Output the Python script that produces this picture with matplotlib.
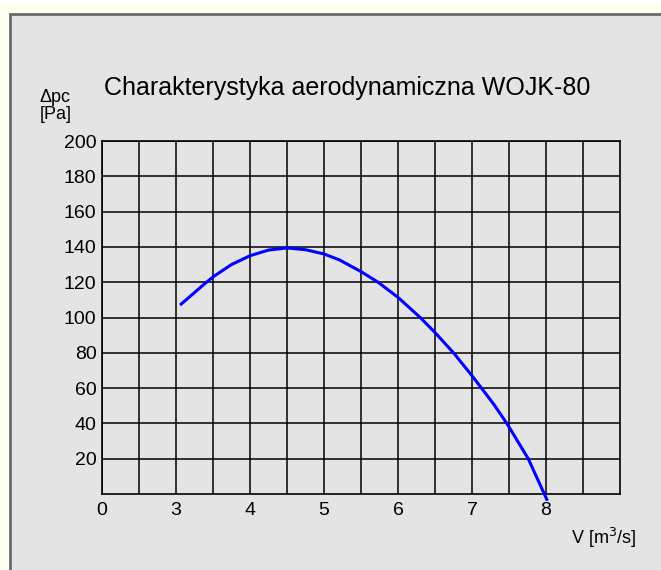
import matplotlib.pyplot as plt
from matplotlib.patches import Rectangle

plt.rcParams['font.family'] = ['Liberation Sans', 'DejaVu Sans']

# flow V [m3/s] and pressure drop dpc [Pa]
flow = [3.07, 3.37, 3.5, 3.75, 4.0, 4.25, 4.5, 4.75, 5.0, 5.21, 5.5, 5.73,
        6.0, 6.3, 6.5, 6.75, 7.0, 7.11, 7.3, 7.47, 7.5, 7.76, 8.01]
dpc = [107.6, 118.5, 123, 130, 135, 138.2, 139.4, 138.4, 136.0, 132.6, 126, 120,
       111.4, 100, 91.5, 80, 67, 61, 50.5, 40, 38, 20, -3]

x_ticks = [2, 3, 4, 5, 6, 7, 8]
x_labels = ["0", "3", "4", "5", "6", "7", "8"]
y_ticks = [20, 40, 60, 80, 100, 120, 140, 160, 180, 200]

fig = plt.figure(figsize=(6.61, 5.70), dpi=100, facecolor="white")

# grey panel with dark frame (behind the axes)
fig.patches.append(Rectangle((0, 0), 1, 0.995, transform=fig.transFigure,
                             facecolor="#fffff0", edgecolor="none", zorder=-3))
fig.patches.append(Rectangle((10 / 661, -0.01), 1.0, (570 - 14) / 570 + 0.01,
                             transform=fig.transFigure, facecolor="#e4e4e4",
                             edgecolor="#6a6a6a", linewidth=2, zorder=-2))

ax = fig.add_axes([102 / 661, 76 / 570, 518 / 661, 353 / 570])
ax.set_zorder(1)
ax.set_facecolor("#e4e4e4")
ax.set_xlim(2, 9)
ax.set_ylim(0, 200)

ax.set_xticks([2.5 + i for i in range(7)], minor=True)
ax.set_xticks(x_ticks)
ax.set_xticklabels(x_labels)
ax.set_yticks(y_ticks)
ax.grid(True, which="both", color="black", linewidth=1.1)
ax.tick_params(which="both", length=0, labelsize=14, colors="black")
ax.tick_params(axis="x", pad=6)
ax.tick_params(axis="y", pad=4)
for s in ax.spines.values():
    s.set_color("black")
    s.set_linewidth(1.2)

ax.plot(flow, dpc, color="#0000ff", linewidth=2.2, clip_on=False, zorder=5,
        solid_joinstyle="round")

fig.text(104 / 661, 1 - 88 / 570, "Charakterystyka aerodynamiczna WOJK-80",
         fontsize=18, va="center", ha="left")
fig.text(40 / 661, 1 - 106 / 570, "\u0394pc\n[Pa]", fontsize=13,
         va="center", ha="left", linespacing=1.0)
fig.text(571 / 661, 1 - 538 / 570, "V [m$^3$/s]", fontsize=13,
         va="center", ha="left")

fig.savefig("out.png", dpi=100, facecolor=fig.get_facecolor())
